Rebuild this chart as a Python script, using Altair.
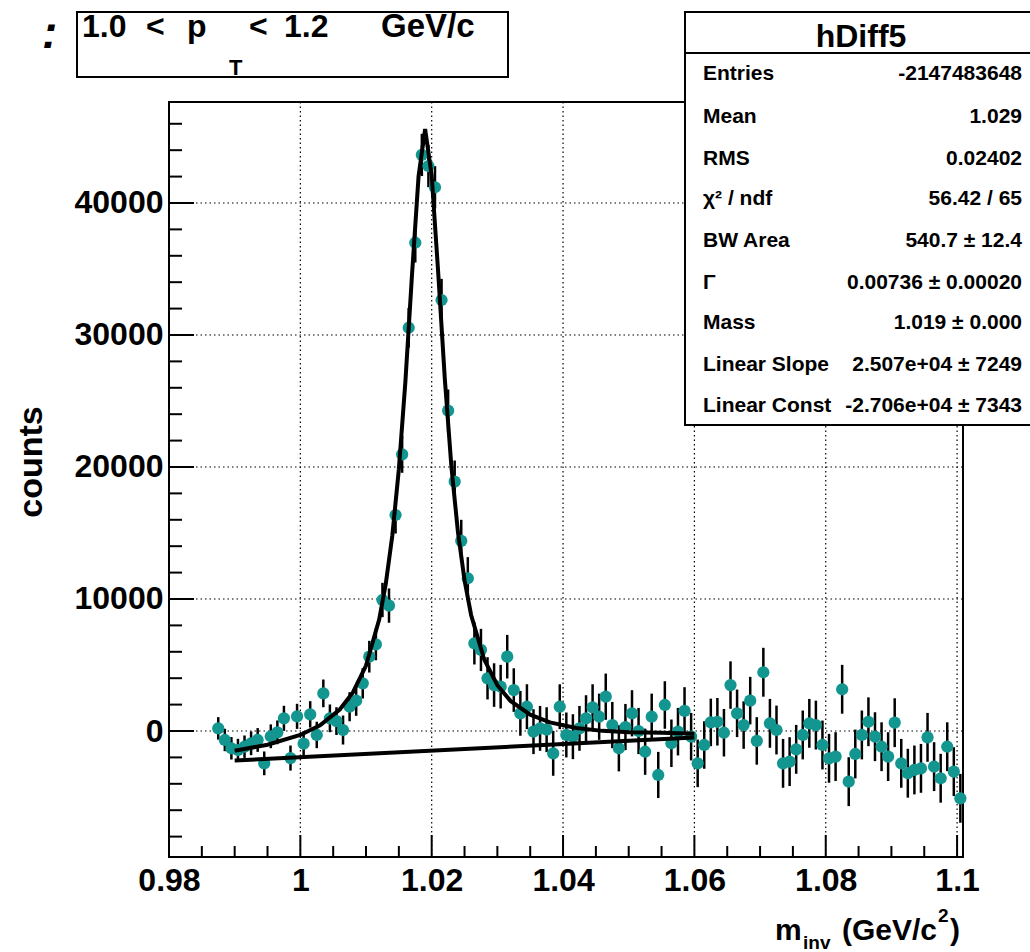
import altair as alt
import pandas as pd

# ---------------- data ----------------
mass_bins = [0.9875, 0.9885, 0.9895, 0.9905, 0.9915, 0.9925, 0.9935, 0.9945, 0.9955, 0.9965,
             0.9975, 0.9985, 0.9995, 1.0005, 1.0015, 1.0025, 1.0035, 1.0045, 1.0055, 1.0065,
             1.0075, 1.0085, 1.0095, 1.0105, 1.0115, 1.0125, 1.0135, 1.0145, 1.0155, 1.0165,
             1.0175, 1.0185, 1.0195, 1.0205, 1.0215, 1.0225, 1.0235, 1.0245, 1.0255, 1.0265,
             1.0275, 1.0285, 1.0295, 1.0305, 1.0315, 1.0325, 1.0335, 1.0345, 1.0355, 1.0365,
             1.0375, 1.0385, 1.0395, 1.0405, 1.0415, 1.0425, 1.0435, 1.0445, 1.0455, 1.0465,
             1.0475, 1.0485, 1.0495, 1.0505, 1.0515, 1.0525, 1.0535, 1.0545, 1.0555, 1.0565,
             1.0575, 1.0585, 1.0595, 1.0605, 1.0615, 1.0625, 1.0635, 1.0645, 1.0655, 1.0665,
             1.0675, 1.0685, 1.0695, 1.0705, 1.0715, 1.0725, 1.0735, 1.0745, 1.0755, 1.0765,
             1.0775, 1.0785, 1.0795, 1.0805, 1.0815, 1.0825, 1.0835, 1.0845, 1.0855, 1.0865,
             1.0875, 1.0885, 1.0895, 1.0905, 1.0915, 1.0925, 1.0935, 1.0945, 1.0955, 1.0965,
             1.0975, 1.0985, 1.0995, 1.1005]

counts = [200, -680, -1310, -1440, -1190, -930, -680, -2450, -400, -100,
          960, -2050, 1110, -960, 1260, -300, 2850, 960, 750, 75,
          1840, 2300, 3610, 5630, 6560, 9925, 9500, 16360, 20960, 30550,
          36990, 43640, 42800, 41190, 32650, 24270, 18890, 14400, 11570, 6640,
          6140, 3990, 3480, 3360, 5630, 3100, 1340, 1840, -50, 200,
          100, -1690, 1840, -300, -430, 200, 960, 1790, 1080, 2600,
          450, -1310, 300, 1340, 0, -1570, 1080, -3330, 1970, -930,
          -50, 1520, -430, -2450, -1060, 650, 700, -130, 3480, 1340,
          450, 2300, -750, 4450, 580, 75, -2450, -2320, -1390, -300,
          580, 450, -1060, -2070, -1940, 3160, -3840, -1740, -300, 700,
          -430, -1190, -1940, 630, -2450, -3200, -2950, -2830, -480, -2700,
          -3580, -1190, -3080, -5100]

count_err = [850, 850, 850, 850, 850, 900, 900, 900, 900, 900,
             950, 950, 950, 950, 1000, 1000, 1050, 1050, 1050, 1100,
             1100, 1150, 1150, 1200, 1200, 1300, 1300, 1400, 1400, 1500,
             1500, 1600, 1600, 1600, 1600, 1600, 1600, 1600, 1600, 1600,
             1600, 1600, 1650, 1650, 1650, 1650, 1700, 1700, 1700, 1700,
             1700, 1700, 1700, 1700, 1700, 1700, 1750, 1750, 1750, 1750,
             1750, 1750, 1750, 1750, 1750, 1750, 1750, 1750, 1800, 1800,
             1800, 1800, 1800, 1800, 1800, 1800, 1800, 1800, 1800, 1800,
             1800, 1800, 1800, 1850, 1850, 1850, 1850, 1850, 1850, 1850,
             1850, 1850, 1850, 1850, 1850, 1850, 1850, 1850, 1850, 1850,
             1850, 1850, 1850, 1850, 1850, 1850, 1850, 1850, 1850, 1850,
             1850, 1850, 1850, 1850]

# fit curve (Breit-Wigner + linear)
fit_mass = [0.990, 0.995, 1.000, 1.003, 1.006, 1.008, 1.010, 1.012, 1.013, 1.014,
            1.015, 1.016, 1.017, 1.018, 1.019, 1.020, 1.021, 1.022, 1.023, 1.024,
            1.025, 1.026, 1.028, 1.030, 1.032, 1.035, 1.038, 1.042, 1.046, 1.050,
            1.055, 1.060]
fit_counts = [-1500, -1040, -300, 435, 1630, 2920, 4960, 8440, 11120, 14790,
              19830, 26510, 34550, 42020, 45600, 42070, 34650, 26660, 20030, 15050,
              11420, 8790, 5410, 3470, 2280, 1240, 650, 230, 10, -90,
              -130, -200]
bkg_mass = [0.990, 1.060]
bkg_counts = [-2240, -490]

x_major = [1.0, 1.02, 1.04, 1.06, 1.08, 1.1]
x_labels = [0.98, 1.0, 1.02, 1.04, 1.06, 1.08, 1.1]
x_minor = [0.985, 0.99, 0.995, 1.005, 1.01, 1.015, 1.025, 1.03, 1.035, 1.045, 1.05, 1.055,
           1.065, 1.07, 1.075, 1.085, 1.09, 1.095]
y_major = [0, 10000, 20000, 30000, 40000]
y_minor = [-8000, -6000, -4000, -2000, 2000, 4000, 6000, 8000, 12000, 14000, 16000, 18000,
           22000, 24000, 26000, 28000, 32000, 34000, 36000, 38000, 42000, 44000, 46000]

stat_names = ["Entries", "Mean", "RMS", "χ² / ndf", "BW Area", "Γ", "Mass",
              "Linear Slope", "Linear Const"]
stat_values = ["-2147483648", "1.029", "0.02402", "56.42 / 65", "540.7 ± 12.4",
               "0.00736 ± 0.00020", "1.019 ± 0.000", "2.507e+04 ± 7249", "-2.706e+04 ± 7343"]

# ---------------- layout ----------------
OX, OY = 169, 102          # plot origin in the page
W, H = 794, 755
FONT = "Liberation Sans"
TEAL = "#12968f"

xs = alt.Scale(domain=[0.98, 1.1009], nice=False, zero=False)
ys = alt.Scale(domain=[-9545, 47650], nice=False, zero=False)
dummy = pd.DataFrame({"d": [0]})

X_AX = alt.Axis(values=x_labels, format="~g", ticks=False, domain=False, grid=False,
                labelFont=FONT, labelFontSize=32, labelFontWeight="bold",
                labelColor="black", labelPadding=8, labelFlush=False, labelOverlap=False)
Y_AX = alt.Axis(values=y_major, format="d", ticks=False, domain=False, grid=False,
                labelFont=FONT, labelFontSize=32, labelFontWeight="bold",
                labelColor="black", labelPadding=6, labelOverlap=False)


def X(field):
    return alt.X(field, scale=xs, axis=X_AX, title=None)


def Y(field):
    return alt.Y(field, scale=ys, axis=Y_AX, title=None)


df = pd.DataFrame({"m": mass_bins, "c": counts, "e": count_err})
df["lo"] = df["c"] - df["e"]
df["hi"] = df["c"] + df["e"]

grid_style = dict(color="black", strokeDash=[1.5, 3], strokeWidth=1.2)

grid_x = alt.Chart(pd.DataFrame({"v": x_major})).mark_rule(**grid_style).encode(
    x=X("v:Q"), y=alt.value(0), y2=alt.value(H))
grid_y = alt.Chart(pd.DataFrame({"v": y_major})).mark_rule(**grid_style).encode(
    y=Y("v:Q"), x=alt.value(0), x2=alt.value(W))


def xticks(vals, length):
    return alt.Chart(pd.DataFrame({"v": vals})).mark_rule(color="black", strokeWidth=2).encode(
        x=X("v:Q"), y=alt.value(H), y2=alt.value(H - length))


def yticks(vals, length):
    return alt.Chart(pd.DataFrame({"v": vals})).mark_rule(color="black", strokeWidth=2).encode(
        y=Y("v:Q"), x=alt.value(0), x2=alt.value(length))


errbars = alt.Chart(df).mark_rule(color="black", strokeWidth=2.5).encode(
    x=X("m:Q"), y=Y("lo:Q"), y2="hi:Q")

points = alt.Chart(df).mark_circle(size=150, color=TEAL, opacity=1).encode(
    x=X("m:Q"), y=Y("c:Q"))

fit_line = alt.Chart(pd.DataFrame({"m": fit_mass, "c": fit_counts})).mark_line(
    color="black", strokeWidth=4).encode(x=X("m:Q"), y=Y("c:Q"))
bkg_line = alt.Chart(pd.DataFrame({"m": bkg_mass, "c": bkg_counts})).mark_line(
    color="black", strokeWidth=4).encode(x=X("m:Q"), y=Y("c:Q"))


def txt(text, x, y, size, align="left", baseline="alphabetic", weight="bold", style="normal", angle=0):
    kw = dict(font=FONT, fontSize=size, fontWeight=weight, fontStyle=style, align=align,
              baseline=baseline, color="black")
    if angle:
        kw["angle"] = angle
    return alt.Chart(dummy).mark_text(**kw).encode(
        x=alt.value(x - OX), y=alt.value(y - OY), text=alt.value(text))


def box(x1, y1, x2, y2):
    return alt.Chart(dummy).mark_rect(fill="white", stroke="black", strokeWidth=2).encode(
        x=alt.value(x1 - OX), x2=alt.value(x2 - OX), y=alt.value(y1 - OY), y2=alt.value(y2 - OY))


def hline(x1, x2, y):
    return alt.Chart(dummy).mark_rule(color="black", strokeWidth=2).encode(
        x=alt.value(x1 - OX), x2=alt.value(x2 - OX), y=alt.value(y - OY))


# stats box
stat_rows_y = [74, 117, 159, 199, 241, 283, 323, 365, 406]
sdf = pd.DataFrame({"name": stat_names, "val": stat_values,
                    "ypix": [v - OY for v in stat_rows_y]})
stat_names_l = alt.Chart(sdf).mark_text(font=FONT, fontSize=21, fontWeight="bold", align="left",
                                        baseline="middle", color="black").encode(
    x=alt.value(703 - OX), y=alt.Y("ypix:Q", scale=None), text="name:N")
stat_vals_l = alt.Chart(sdf).mark_text(font=FONT, fontSize=21, fontWeight="bold", align="right",
                                       baseline="middle", color="black").encode(
    x=alt.value(1022 - OX), y=alt.Y("ypix:Q", scale=None), text="val:N")

layers = [
    grid_x, grid_y,
    xticks(x_major, 22), xticks(x_minor, 11),
    yticks(y_major, 25), yticks(y_minor, 13),
    errbars, points, bkg_line, fit_line,
    # stats box
    box(685, 12, 1040, 425), hline(685, 1040, 53),
    txt("hDiff5", 861, 47, 32, align="center"),
    stat_names_l, stat_vals_l,
    # title box
    box(77, 12, 508, 77),
    txt("1.0", 82, 37, 32), txt("<", 146, 37, 32), txt("p", 187, 37, 32),
    txt("T", 229, 75, 22), txt("<", 249, 37, 32), txt("1.2", 284, 37, 32),
    txt("GeV/c", 381, 37, 33),
    txt(":", 42, 48, 46, style="italic"),
    # axis titles
    txt("counts", 32, 462, 34, align="center", baseline="middle", angle=270),
    txt("m", 775, 940, 30), txt("inv", 803, 949, 19), txt("(GeV/c", 842, 940, 30),
    txt("2", 938, 922, 19), txt(")", 950, 940, 30),
]

chart = alt.layer(*layers).properties(
    width=W, height=H,
    padding={"left": OX, "top": OY, "right": 1030 - OX - W, "bottom": 952 - OY - H},
    autosize=alt.AutoSizeParams(type="none"),
    background="white",
).configure_view(stroke="black", strokeWidth=2)

chart.save("out.html", embed_options={"renderer": "svg", "actions": False})
